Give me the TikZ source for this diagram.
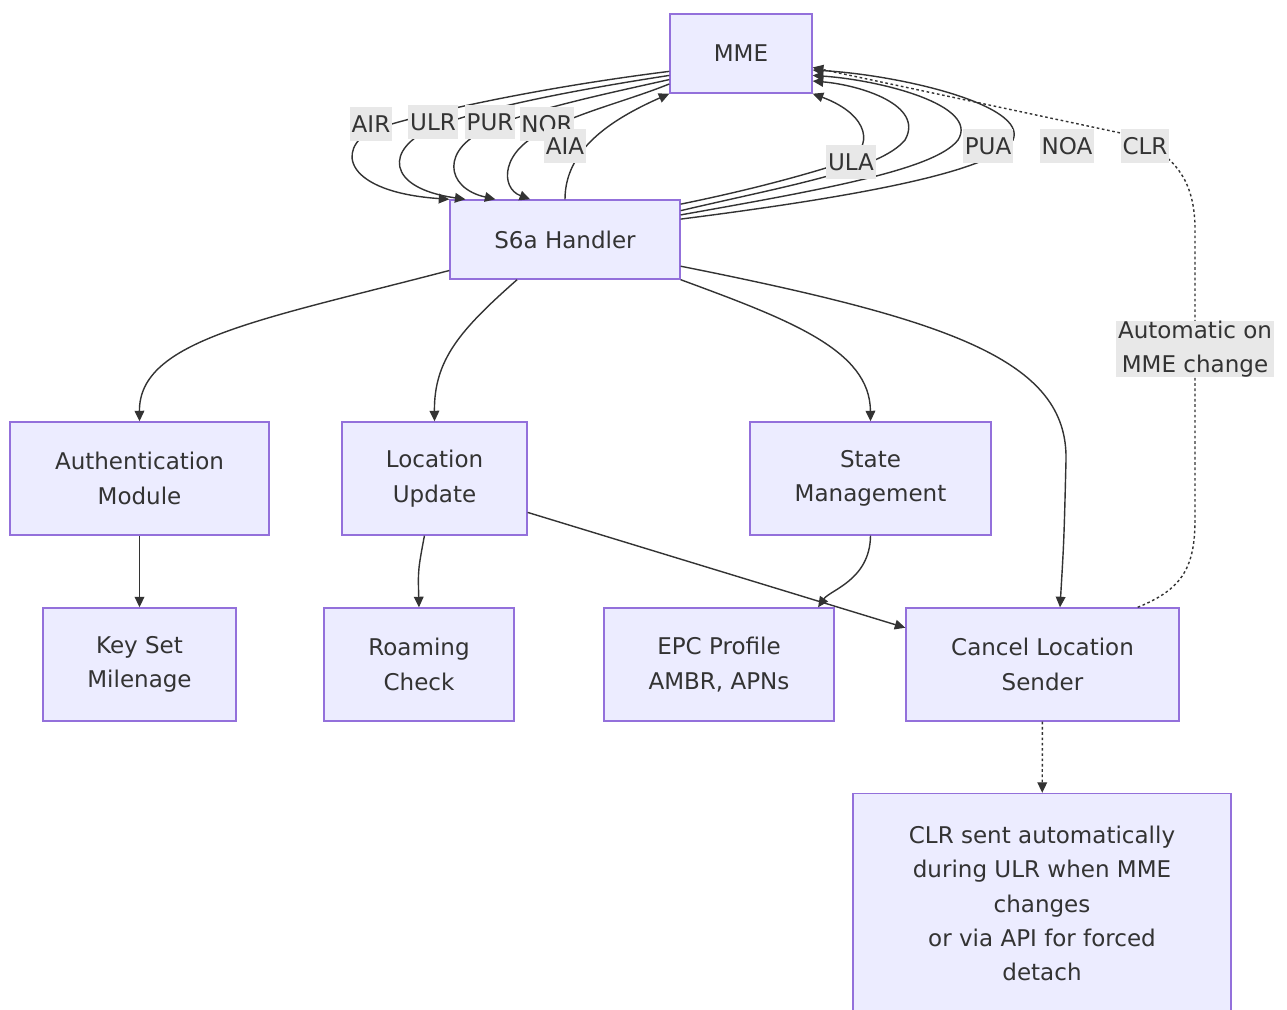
\documentclass[tikz,border=0pt]{standalone}
\usepackage{fontspec}
\setmainfont{DejaVu Sans}
\usepackage{tikz}
\usetikzlibrary{arrows.meta}

\definecolor{boxfill}{HTML}{ECECFF}
\definecolor{boxline}{HTML}{9370DB}
\definecolor{ink}{HTML}{333333}
\definecolor{lblfill}{HTML}{E8E8E8}

\begin{document}
\begin{tikzpicture}[x=0.02cm, y=-0.02cm,
    box/.style={rectangle, draw=boxline, fill=boxfill, line width=0.8pt, text=ink, align=center,
      font=\fontsize{13.1}{19.6}\selectfont, minimum height=2.26cm},
    lbl/.style={fill=lblfill, text=ink, inner xsep=1pt, inner ysep=0pt, minimum height=0.7cm,
      align=center, font=\fontsize{13.1}{19.6}\selectfont},
    flow/.style={draw=ink, line width=0.8pt, -{Triangle[length=6pt, width=5.5pt]}},
    dots/.style={flow, dash pattern=on 1.5pt off 1.5pt}]
        \useasboundingbox (0, 0) rectangle (1287, 1010);
        \node [box, minimum width=2.84cm, minimum height=1.58cm] (mme) at (741, 53.5) {MME};
        \node [box, minimum width=4.6cm, minimum height=1.58cm] (s6a) at (565, 239.5) {S6a Handler};
        \node [box, minimum width=5.18cm] (auth) at (139.5, 478.5) {Authentication\\Module};
        \node [box, minimum width=3.7cm] (loc) at (434.5, 478.5) {Location\\Update};
        \node [box, minimum width=4.82cm] (state) at (870.5, 478.5) {State\\Management};
        \node [box, minimum width=3.86cm] (keyset) at (139.5, 664.5) {Key Set\\Milenage};
        \node [box, minimum width=3.8cm] (roam) at (419, 664.5) {Roaming\\Check};
        \node [box, minimum width=4.6cm] (epc) at (719, 664.5) {EPC Profile\\AMBR, APNs};
        \node [box, minimum width=5.46cm] (cancel) at (1042.5, 664.5) {Cancel Location\\Sender};
        \node [box, minimum width=7.56cm, minimum height=4.4cm] (note) at (1042, 903.5)
          {CLR sent automatically\\during ULR when MME\\changes\\or via API for forced\\detach};
        % requests from the MME
        \draw [flow] (mme.194) .. controls (560, 85) and (440, 108) .. (372, 130)
          .. controls (335, 150) and (345, 192) .. (s6a.north west);
        \draw [flow] (mme.197) .. controls (575, 90) and (480, 108) .. (433, 128)
          .. controls (385, 148) and (385, 188) .. (s6a.158);
        \draw [flow] (mme.200) .. controls (600, 95) and (530, 110) .. (490, 128)
          .. controls (440, 148) and (445, 188) .. (s6a.150);
        \draw [flow] (mme.203) .. controls (630, 100) and (580, 112) .. (547, 130)
          .. controls (500, 150) and (500, 188) .. (s6a.131);
        % answers back to the MME
        \draw [flow] (s6a.north) .. controls (565, 150) and (610, 120) .. (mme.south west);
        \draw [flow] (s6a.17) .. controls (750, 190) and (805, 175) .. (845, 162)
          .. controls (875, 148) and (870, 115) .. (mme.south east);
        \draw [flow] (s6a.14) .. controls (790, 185) and (880, 170) .. (905, 140)
          .. controls (925, 105) and (860, 85) .. (mme.-21);
        \draw [flow] (s6a.12) .. controls (820, 190) and (935, 170) .. (958, 140)
          .. controls (980, 105) and (880, 80) .. (mme.-17);
        \draw [flow] (s6a.10) .. controls (870, 195) and (995, 170) .. (1013, 140)
          .. controls (1028, 105) and (900, 75) .. (mme.-13);
        \draw [dots] (cancel.31) .. controls (1180, 590) and (1195, 570) .. (1195, 520)
          -- (1195, 230) .. controls (1195, 180) and (1175, 155) .. (1130, 135) -- (mme.-11);
        % handler fan-out
        \draw [flow] (s6a.195) .. controls (260, 320) and (139, 340) .. (auth.north);
        \draw [flow] (s6a.-140) .. controls (460, 330) and (434, 360) .. (loc.north);
        \draw [flow] (s6a.south east) .. controls (790, 320) and (870, 350) .. (state.north);
        \draw [flow] (s6a.-13) .. controls (950, 320) and (1068, 360) .. (1066, 460)
          .. controls (1064, 540) .. (cancel.73);
        \draw [flow] (auth) -- (keyset);
        \draw [flow] (loc.-100) .. controls (418, 570) .. (roam.north);
        \draw [flow] (loc.-20) -- (cancel.165);
        \draw [flow] (state.south) .. controls (870, 580) and (830, 590) .. (epc.30);
        \draw [dots] (cancel) -- (note);
        % edge labels
        \node [lbl] (air) at (371, 124) {AIR};
        \node [lbl] (ulr) at (433, 122) {ULR};
        \node [lbl] (pur) at (490, 122) {PUR};
        \node [lbl] (nor) at (547, 124) {NOR};
        \node [lbl] (aia) at (565, 146) {AIA};
        \node [lbl] (ula) at (851, 162) {ULA};
        \node [lbl] (pua) at (988, 146) {PUA};
        \node [lbl] (noa) at (1067, 146) {NOA};
        \node [lbl] (clr) at (1145, 146) {CLR};
        \node [lbl] (auto) at (1195, 349) {Automatic on\\MME change};
      \end{tikzpicture}
\end{document}
